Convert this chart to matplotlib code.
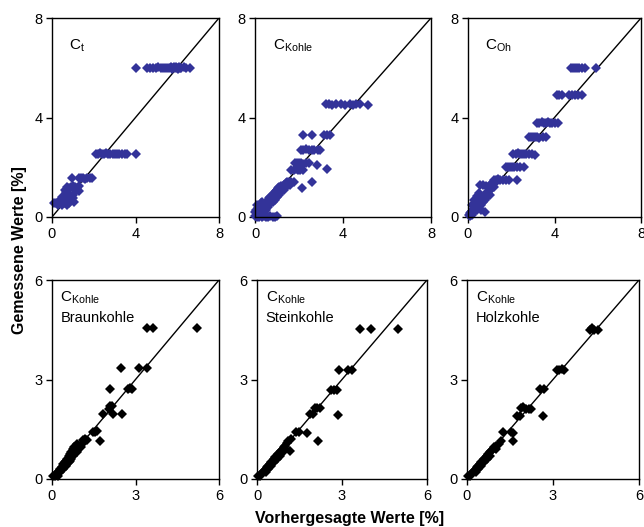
import matplotlib
matplotlib.use("Agg")
import matplotlib.pyplot as plt
import numpy as np

plt.rcParams['font.family'] = ['Liberation Sans', 'DejaVu Sans']
plt.rcParams['mathtext.fontset'] = 'custom'
plt.rcParams['mathtext.rm'] = 'Liberation Sans'
plt.rcParams['mathtext.it'] = 'Liberation Sans:italic'

# --- data: (vorhergesagt, gemessen) ---
ct_x = [4.03, 4.55, 4.7, 4.85, 5.0, 5.1, 5.2, 5.3, 5.4, 5.5, 5.6, 5.7, 5.75, 5.8, 5.85,
        5.9, 5.95, 6.0, 6.05, 6.1, 6.15, 6.2, 6.3, 6.4, 6.6,
        2.1, 2.2, 2.3, 2.4, 2.5, 2.6, 2.7, 2.8, 2.9, 3.0, 3.1, 3.2, 3.35, 3.5, 3.6, 4.03,
        0.95, 1.3, 1.4, 1.5, 1.6, 1.7, 1.8, 1.9,
        0.6, 0.7, 0.8, 0.9, 1.0, 1.1, 1.2, 1.3, 0.65, 0.75, 1.0, 1.15, 1.3,
        0.5, 0.6, 0.7, 0.8, 0.9, 1.0, 0.55, 0.65, 0.85, 1.05,
        0.1, 0.2, 0.3, 0.4, 0.5, 0.6, 0.7, 0.8, 0.35, 0.45]
ct_y = [6.0, 6.0, 6.0, 5.98, 6.0, 6.02, 6.0, 6.0, 5.98, 6.0, 6.0, 6.02, 5.96, 6.0, 6.04,
        5.98, 6.02, 6.0, 5.96, 6.02, 6.0, 6.0, 6.02, 6.0, 6.0,
        2.55, 2.55, 2.57, 2.55, 2.53, 2.57, 2.55, 2.53, 2.55, 2.55, 2.52, 2.55, 2.53, 2.55, 2.52, 2.53,
        1.55, 1.55, 1.57, 1.55, 1.53, 1.55, 1.57, 1.55,
        1.1, 1.2, 1.15, 1.2, 1.25, 1.2, 1.15, 1.25, 1.0, 0.95, 0.9, 1.05, 1.05,
        0.8, 0.85, 0.75, 0.8, 0.7, 0.75, 0.65, 0.65, 0.65, 0.6,
        0.55, 0.55, 0.5, 0.55, 0.5, 0.55, 0.5, 0.55, 0.65, 0.7]

ck_x = [3.23, 3.35, 3.5, 3.7, 3.9, 4.1, 4.3, 4.45, 4.6, 4.75, 5.15,
        2.2, 2.58, 3.15, 3.25, 3.4,
        2.1, 2.2, 2.3, 2.45, 2.6, 2.7, 2.85, 2.95,
        1.8, 1.9, 2.0, 2.1, 2.2, 2.3, 2.45, 2.8,
        1.65, 1.75, 1.85, 1.95, 2.05, 2.2, 3.26,
        1.45, 1.55, 1.65, 1.75, 2.58, 2.12,
        0.05, 0.1, 0.15, 0.2, 0.25, 0.3, 0.35, 0.4, 0.45, 0.5, 0.55, 0.6, 0.65, 0.7,
        0.75, 0.8, 0.85, 0.9, 0.95, 1.0, 1.05, 1.1, 1.2, 1.3, 1.4, 1.5, 1.6,
        0.7, 0.8, 0.9, 1.0, 1.1, 1.2, 1.3, 0.6, 0.5, 0.4, 0.3, 0.2, 1.4,
        0.0, 0.1, 0.2, 0.3, 0.4, 0.5, 0.6, 0.7, 0.8, 0.9, 1.0,
        0.05, 0.1, 0.15, 0.0, 0.2, 0.3, 0.25]
ck_y = [4.54, 4.54, 4.52, 4.54, 4.54, 4.52, 4.54, 4.52, 4.54, 4.54, 4.52,
        3.31, 3.31, 3.31, 3.31, 3.31,
        2.71, 2.71, 2.73, 2.71, 2.71, 2.69, 2.71, 2.71,
        2.17, 2.17, 2.19, 2.17, 2.15, 2.17, 2.17, 2.1,
        1.9, 1.9, 1.92, 1.9, 1.88, 1.9, 1.92,
        1.39, 1.39, 1.41, 1.39, 1.39, 1.17,
        0.05, 0.1, 0.2, 0.25, 0.3, 0.35, 0.4, 0.45, 0.5, 0.55, 0.6, 0.7, 0.75, 0.8,
        0.85, 0.9, 0.95, 1.0, 1.05, 1.1, 1.15, 1.2, 1.25, 1.3, 1.35, 1.35, 1.3,
        0.55, 0.6, 0.7, 0.8, 0.9, 1.0, 1.1, 0.4, 0.3, 0.2, 0.15, 0.1, 1.2,
        0.05, 0.0, 0.02, 0.0, 0.05, 0.0, 0.02, 0.05, 0.0, 0.02, 0.05,
        0.3, 0.5, 0.35, 0.2, 0.45, 0.6, 0.55]

coh_x = [4.75, 4.85, 4.95, 5.05, 5.15, 5.25, 5.4, 5.9,
         4.1, 4.2, 4.35, 4.65, 4.8, 4.95, 5.1, 5.25,
         3.2, 3.3, 3.4, 3.5, 3.6, 3.7, 3.8, 3.9, 4.0, 4.15,
         2.8, 2.9, 3.0, 3.1, 3.2, 3.3, 3.45, 3.6,
         2.1, 2.2, 2.3, 2.4, 2.5, 2.6, 2.7, 2.8, 2.95, 3.1,
         1.75, 1.85, 1.95, 2.05, 2.15, 2.25, 2.4, 2.6,
         1.2, 1.3, 1.4, 1.5, 1.6, 1.75, 1.9, 2.25,
         0.55, 0.7, 0.85, 1.0, 1.1, 1.2, 1.3, 1.0, 1.1, 1.2, 0.9, 0.8, 0.7, 0.6, 0.5,
         0.45, 0.4, 0.35, 0.3, 0.25, 0.2, 0.15, 0.1, 0.05, 0.1, 0.2, 0.3, 0.4, 0.5,
         0.6, 0.7, 0.8, 0.9, 1.0, 0.8, 0.6, 0.4, 0.3, 0.5, 0.2]
coh_y = [6.0, 6.0, 6.0, 6.0, 6.0, 6.0, 6.0, 6.0,
         4.92, 4.92, 4.92, 4.92, 4.92, 4.92, 4.92, 4.92,
         3.78, 3.78, 3.8, 3.78, 3.78, 3.8, 3.78, 3.78, 3.76, 3.78,
         3.2, 3.2, 3.22, 3.2, 3.2, 3.18, 3.2, 3.2,
         2.55, 2.55, 2.57, 2.55, 2.55, 2.53, 2.55, 2.55, 2.53, 2.5,
         2.01, 2.01, 2.03, 2.01, 2.01, 1.99, 2.01, 2.01,
         1.5, 1.5, 1.52, 1.5, 1.5, 1.48, 1.5, 1.5,
         1.3, 1.3, 1.25, 1.3, 1.35, 1.4, 1.4, 1.1, 1.15, 1.2, 1.0, 0.9, 0.8, 0.7, 0.6,
         0.5, 0.45, 0.4, 0.35, 0.3, 0.25, 0.2, 0.15, 0.1, 0.05, 0.1, 0.2, 0.3, 0.4,
         0.5, 0.6, 0.7, 0.8, 0.9, 0.2, 0.3, 0.85, 0.7, 0.95, 0.5]

braun_x = [3.4, 3.64, 5.21, 2.47, 3.14, 3.42, 2.09, 2.74, 2.8, 2.86, 2.09, 2.15,
           1.85, 2.18, 2.5, 1.47, 1.55, 1.61, 1.71, 1.13, 1.2, 1.25, 2.05,
           0.05, 0.1, 0.15, 0.2, 0.25, 0.3, 0.35, 0.4, 0.45, 0.5, 0.55, 0.6, 0.65, 0.7,
           0.75, 0.8, 0.85, 0.9, 0.95, 1.0, 0.8, 0.7, 0.6, 0.5, 0.4, 0.3, 0.2, 0.9,
           1.1, 1.05, 0.75, 0.65]
braun_y = [4.56, 4.56, 4.56, 3.34, 3.34, 3.34, 2.72, 2.72, 2.74, 2.72, 2.19, 2.21,
           1.96, 1.96, 1.96, 1.43, 1.43, 1.45, 1.16, 1.18, 1.2, 1.18, 2.1,
           0.1, 0.1, 0.15, 0.2, 0.25, 0.3, 0.35, 0.45, 0.5, 0.55, 0.6, 0.7, 0.75, 0.8,
           0.9, 0.95, 1.0, 1.05, 0.9, 1.0, 0.75, 0.6, 0.5, 0.4, 0.3, 0.2, 0.1, 0.8,
           1.1, 0.95, 0.7, 0.55]

stein_x = [3.64, 4.01, 4.96, 2.89, 3.22, 3.34, 2.6, 2.7, 2.83, 2.04, 2.12, 2.22,
           1.87, 1.98, 2.87, 1.39, 1.49, 1.75, 2.16, 1.18, 1.1, 1.2, 1.05,
           0.05, 0.1, 0.15, 0.2, 0.25, 0.3, 0.35, 0.4, 0.45, 0.5, 0.55, 0.6, 0.65, 0.7,
           0.75, 0.8, 0.85, 0.9, 0.95, 1.0, 0.8, 0.7, 0.6, 0.5, 0.4, 0.3, 0.9, 1.0]
stein_y = [4.51, 4.51, 4.51, 3.29, 3.29, 3.29, 2.69, 2.69, 2.69, 2.14, 2.14, 2.14,
           1.96, 1.96, 1.94, 1.43, 1.43, 1.4, 1.16, 0.83, 1.15, 1.2, 1.1,
           0.08, 0.1, 0.15, 0.2, 0.25, 0.3, 0.35, 0.4, 0.45, 0.5, 0.55, 0.6, 0.65, 0.7,
           0.75, 0.8, 0.85, 0.9, 0.95, 1.0, 0.7, 0.6, 0.5, 0.4, 0.3, 0.2, 0.8, 0.9]

holz_x = [4.3, 4.36, 4.42, 4.57, 3.13, 3.22, 3.3, 3.4, 2.53, 2.7, 2.65, 1.9, 1.97,
          2.07, 2.15, 2.24, 1.75, 1.85, 1.26, 1.55, 1.6, 1.6,
          0.05, 0.1, 0.15, 0.2, 0.25, 0.3, 0.35, 0.4, 0.45, 0.5, 0.55, 0.6, 0.65, 0.7,
          0.75, 0.8, 0.85, 0.9, 0.95, 1.0, 1.1, 1.2, 0.8, 0.7, 0.6, 0.5, 0.4, 0.3, 1.0]
holz_y = [4.5, 4.55, 4.5, 4.5, 3.3, 3.3, 3.32, 3.3, 2.72, 2.7, 1.91, 2.15, 2.17,
          2.1, 2.1, 2.1, 1.9, 1.9, 1.42, 1.42, 1.4, 1.15,
          0.1, 0.1, 0.15, 0.2, 0.25, 0.3, 0.35, 0.4, 0.45, 0.5, 0.55, 0.6, 0.65, 0.7,
          0.75, 0.8, 0.85, 0.9, 0.95, 1.0, 1.05, 1.15, 0.7, 0.6, 0.5, 0.4, 0.3, 0.2, 0.9]

panels = [
    (ct_x, ct_y, 't', None, 8),
    (ck_x, ck_y, 'Kohle', None, 8),
    (coh_x, coh_y, 'Oh', None, 8),
    (braun_x, braun_y, 'Kohle', 'Braunkohle', 6),
    (stein_x, stein_y, 'Kohle', 'Steinkohle', 6),
    (holz_x, holz_y, 'Kohle', 'Holzkohle', 6),
]

# axes boxes in pixels (left, right, top, bottom)
W, H = 644, 527
boxes = [(52, 219, 18, 217), (255, 431, 18, 217), (468, 641, 18, 217),
         (52, 219, 280, 479), (257, 427, 280, 479), (467, 639, 280, 479)]

fig = plt.figure(figsize=(6.44, 5.27), dpi=100)
for (x, y, sub, name, lim), (l, r, t, b) in zip(panels, boxes):
    ax = fig.add_axes([l / W, (H - b) / H, (r - l) / W, (b - t) / H])
    color = '#333399' if lim == 8 else 'black'
    ax.plot([0, lim], [0, lim], color='black', lw=1, zorder=1)
    ax.plot(x, y, 'D', color=color, markersize=5.2, markeredgewidth=0, zorder=2,
            clip_on=False)
    ax.set_xlim(0, lim)
    ax.set_ylim(0, lim)
    ticks = [0, lim / 2, lim]
    ax.set_xticks(ticks)
    ax.set_yticks(ticks)
    ax.set_xticklabels([f'{v:g}' for v in ticks])
    ax.set_yticklabels([f'{v:g}' for v in ticks])
    ax.tick_params(direction='out', length=4, width=1, labelsize=10.5, pad=3)
    for s in ax.spines.values():
        s.set_linewidth(1)
    if name is None:
        ax.text(0.1, 0.86, r'C$_{\rm %s}$' % sub, transform=ax.transAxes,
                fontsize=11, va='center')
    else:
        ax.text(0.05, 0.91, r'C$_{\rm %s}$' % sub, transform=ax.transAxes,
                fontsize=11, va='center')
        ax.text(0.05, 0.81, name, transform=ax.transAxes, fontsize=10.5, va='center')

fig.text(20 / W, 1 - 250 / H, 'Gemessene Werte [%]', rotation=90, ha='center',
         va='center', fontsize=11.5, fontweight='bold')
fig.text(350 / W, 1 - 518 / H, 'Vorhergesagte Werte [%]', ha='center', va='center',
         fontsize=11.5, fontweight='bold')

fig.savefig('out.png', dpi=100)
